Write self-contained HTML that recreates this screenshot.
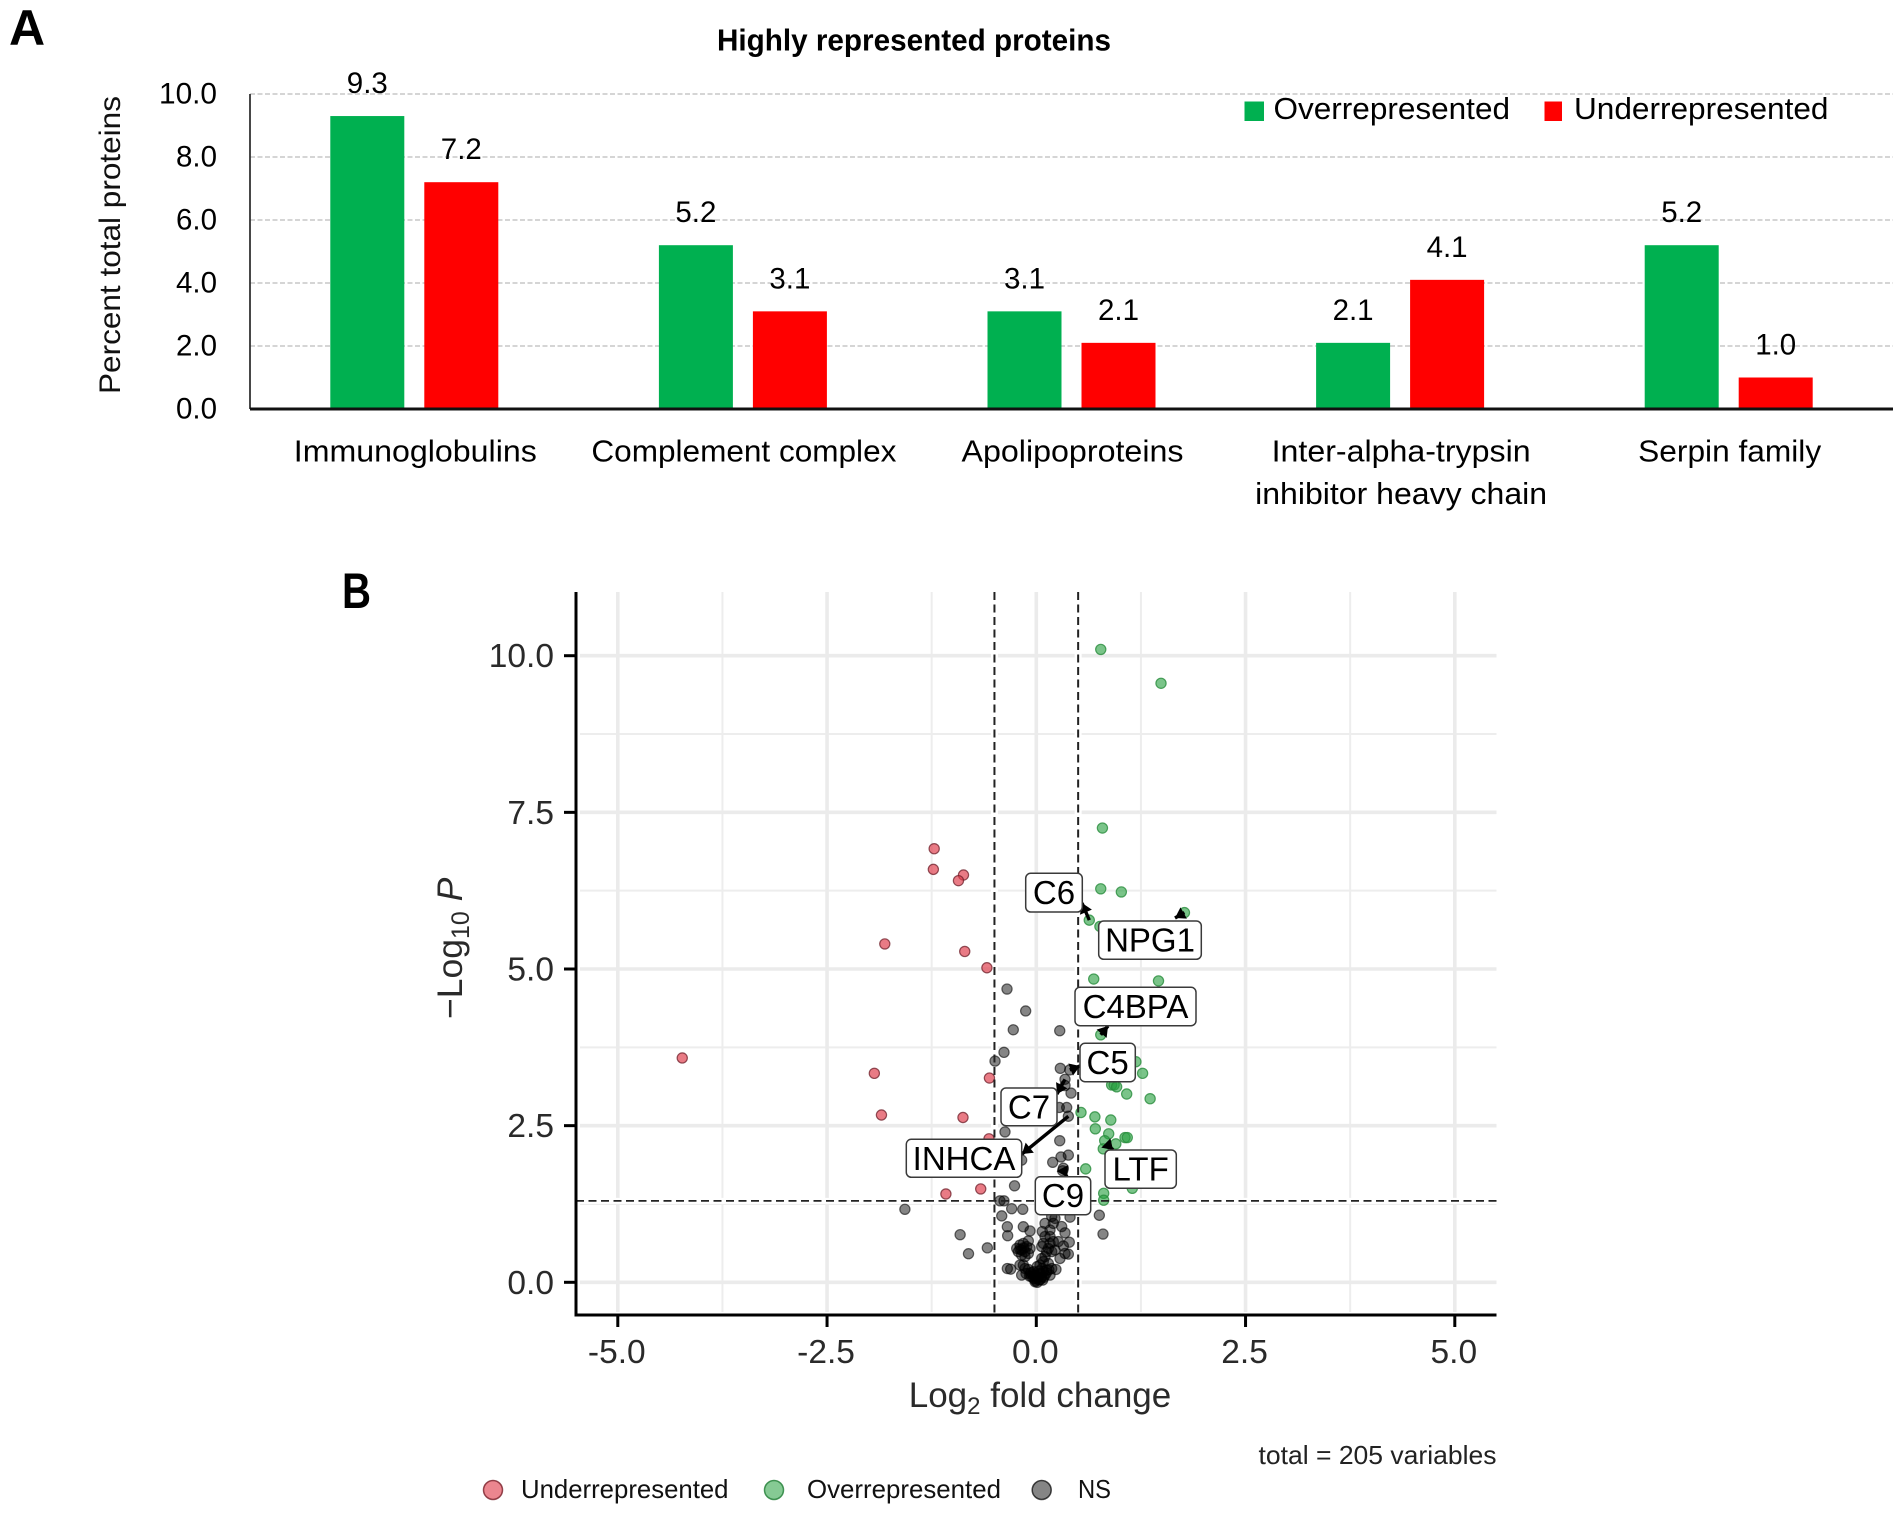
<!DOCTYPE html>
<html lang="en">
<head>
<meta charset="utf-8">
<title>Highly represented proteins and volcano plot</title>
<style>
html,body{margin:0;padding:0;background:#fff;}
svg{display:block;font-family:"Liberation Sans",Arial,sans-serif;}
</style>
</head>
<body>
<svg id="figure" xmlns="http://www.w3.org/2000/svg" width="1902" height="1515" viewBox="0 0 1902 1515">
  <rect x="0" y="0" width="1902" height="1515" fill="#fff"/>
  <g id="panelA"></g>
  <g id="panelB"></g>
</svg>
<script>
// ---- Panel A data ----
const categories = ['Immunoglobulins', 'Complement complex', 'Apolipoproteins', 'Inter-alpha-trypsin|inhibitor heavy chain', 'Serpin family'];
const overValues = [9.3, 5.2, 3.1, 2.1, 5.2];
const underValues = [7.2, 3.1, 2.1, 4.1, 1.0];
const barTicks = [0, 2, 4, 6, 8, 10];

// ---- Panel B data (log2 fold change, -log10 P) ----
const underX = [-1.22,-1.23,-0.87,-0.93,-1.81,-0.855,-0.59,-0.56,-1.85,-0.876,-0.565,-1.08,-0.664,-4.23,-1.935];
const underY = [6.92,6.59,6.50,6.41,5.40,5.28,5.02,3.26,2.67,2.63,2.29,1.41,1.49,3.58,3.335];
const overX = [0.77,1.49,0.79,0.77,1.016,1.77,0.633,0.76,0.686,1.46,0.77,1.19,1.27,0.90,0.93,0.96,1.08,1.36,0.534,0.70,0.89,0.705,0.865,1.06,1.087,0.817,0.95,0.80,0.59,0.805,0.805,1.147];
const overY = [10.10,9.56,7.25,6.28,6.23,5.90,5.78,5.68,4.84,4.81,3.95,3.52,3.335,3.15,3.15,3.12,3.005,2.93,2.71,2.64,2.59,2.45,2.37,2.31,2.31,2.26,2.21,2.13,1.81,1.42,1.31,1.50];
const nsX = [-0.35,-0.127,-0.275,0.28,-0.386,-0.493,0.287,0.40,0.343,0.343,0.415,0.275,0.363,0.383,-0.374,0.28,0.295,0.383,0.196,0.323,0.315,-0.175,-0.26,-0.434,-0.386,-0.294,-0.162,-1.57,-0.413,0.753,0.797,-0.91,-0.81,-0.585,-0.346,-0.342,-0.155,-0.075,-0.095,-0.234,-0.195,-0.155,-0.115,-0.075,-0.215,-0.175,-0.135,-0.095,-0.175,-0.135,-0.195,-0.15,-0.346,-0.306,-0.195,-0.155,-0.175,-0.135,-0.095,-0.123,-0.075,-0.035,-0.055,-0.015,-0.015,0.012,0.036,0.0,0.065,0.044,0.084,0.104,0.076,0.124,0.164,0.235,0.144,0.044,0.084,0.065,0.104,0.184,0.283,0.383,0.343,0.394,0.323,0.223,0.164,0.084,0.065,0.144,0.184,0.124,0.203,0.104,0.072,0.164,0.203,0.223,0.164,0.104,0.303,0.343,0.403,0.184,0.263,0.02,-0.04,0.05,-0.01,0.03,0.09,-0.08,0.12,-0.06,0.15,0.01,0.07,-0.03];
const nsY = [4.68,4.33,4.03,4.015,3.67,3.53,3.415,3.39,3.24,3.14,3.02,2.79,2.79,2.65,2.40,2.26,2.0,2.03,1.915,1.82,1.78,1.95,1.54,1.30,1.30,1.175,1.165,1.165,1.06,1.07,0.77,0.76,0.456,0.55,0.887,0.744,0.887,0.82,0.66,0.54,0.595,0.62,0.57,0.54,0.49,0.515,0.49,0.46,0.435,0.41,0.53,0.55,0.22,0.21,0.275,0.275,0.115,0.22,0.205,0.14,0.14,0.17,0.09,0.115,0.01,0.0,0.035,0.06,0.09,0.14,0.17,0.115,0.035,0.195,0.115,0.205,0.30,0.275,0.33,0.38,0.41,0.22,0.38,0.45,0.46,0.64,0.58,0.515,0.62,0.62,0.57,0.54,0.49,0.49,0.65,0.94,0.81,0.835,0.94,1.02,0.73,0.73,0.89,0.79,1.04,1.05,0.65,0.08,0.12,0.05,0.03,0.18,0.08,0.10,0.15,0.16,0.2,0.25,0.22,0.06];
const geneNames = ['C6','NPG1','C4BPA','C5','C7','INHCA','LTF','C9'];
const geneX = [0.633,1.77,0.77,0.40,0.343,0.383,0.857,0.32];
const geneY = [5.78,5.90,3.95,3.39,3.24,2.65,2.19,1.80];
const volcanoYTicks = [0, 2.5, 5, 7.5, 10];
const volcanoXTicks = [-5, -2.5, 0, 2.5, 5];
const volcanoYMinor = [1.25, 3.75, 6.25, 8.75];
const volcanoXMinor = [-3.75, -1.25, 1.25, 3.75];
const foldCutoffs = [-0.5, 0.5];
const pCutoff = 1.3;

const SVG_NS = 'http://www.w3.org/2000/svg';
function make(tag, attrs, parent, text) {
  const el = document.createElementNS(SVG_NS, tag);
  for (const k in attrs) el.setAttribute(k, attrs[k]);
  if (text !== undefined) el.textContent = text;
  parent.appendChild(el);
  return el;
}
const panelA = document.getElementById('panelA');
const panelB = document.getElementById('panelB');

// ---- Panel A scales ----
const aLeft = 250, aRight = 1893, aBase = 409, aUnit = 31.5;
const ay = v => aBase - v * aUnit;
const aBand = (aRight - aLeft) / 5;
const ax = i => aLeft + aBand * (i + 0.5);
const barW = 74, barGap = 10;

// panel letter and title
let t = make('text', {x: 9, y: 45, 'font-size': 50, 'font-weight': 700, fill: '#000'}, panelA, 'A');


t = make('text', {x: 717, y: 50.5, 'font-size': 31, 'font-weight': 700, textLength: 394, lengthAdjust: 'spacingAndGlyphs', fill: '#000'}, panelA, 'Highly represented proteins');



// gridlines + y ticks
barTicks.forEach(v => {
  if (v > 0) {
    const g = make('line', {x1: aLeft, x2: aRight, y1: ay(v), y2: ay(v), stroke: '#cfcfcf', 'stroke-width': 1.8, 'stroke-dasharray': '5 2.5'}, panelA);
    
    
  }
  const s = v.toFixed(1);
  const l = make('text', {x: 217, y: ay(v) + 9.5, 'font-size': 30, 'text-anchor': 'end', textLength: s.length > 3 ? 58 : 41, lengthAdjust: 'spacingAndGlyphs', fill: '#000'}, panelA, s);
  
  
});

// bars
categories.forEach((c, i) => {
  const gx = ax(i) - barGap - barW;
  const rx = ax(i) + barGap;
  const g = make('rect', {x: gx, y: ay(overValues[i]), width: barW, height: overValues[i] * aUnit, fill: '#00b050'}, panelA);
  
  
  const r = make('rect', {x: rx, y: ay(underValues[i]), width: barW, height: underValues[i] * aUnit, fill: '#ff0000'}, panelA);
  
  
  const gl = make('text', {x: gx + barW / 2, y: ay(overValues[i]) - 23, 'font-size': 30, 'text-anchor': 'middle', textLength: 41, lengthAdjust: 'spacingAndGlyphs', fill: '#000'}, panelA, overValues[i].toFixed(1));
  
  
  const rl = make('text', {x: rx + barW / 2, y: ay(underValues[i]) - 23, 'font-size': 30, 'text-anchor': 'middle', textLength: 41, lengthAdjust: 'spacingAndGlyphs', fill: '#000'}, panelA, underValues[i].toFixed(1));
  
  
});

// axes
const aAxisY = make('line', {x1: aLeft, x2: aLeft, y1: ay(10), y2: aBase, stroke: '#333', 'stroke-width': 1.8}, panelA);


const aAxisX = make('line', {x1: aLeft, x2: aRight, y1: aBase, y2: aBase, stroke: '#111', 'stroke-width': 3}, panelA);



// category labels: one width per text line
const catWidths = {'Immunoglobulins': 243, 'Complement complex': 305, 'Apolipoproteins': 222, 'Inter-alpha-trypsin': 259, 'inhibitor heavy chain': 292, 'Serpin family': 183};
categories.forEach((c, i) => {
  c.split('|').forEach((line, j) => {
    const l = make('text', {x: ax(i) + 1, y: 461.5 + j * 42.5, 'font-size': 31, 'text-anchor': 'middle', textLength: catWidths[line], lengthAdjust: 'spacingAndGlyphs', fill: '#000'}, panelA, line);
    
    
  });
});

t = make('text', {transform: 'translate(120,394) rotate(-90)', x: 0, y: 0, 'font-size': 30, textLength: 298, lengthAdjust: 'spacingAndGlyphs', fill: '#111'}, panelA, 'Percent total proteins');



// bar legend
let k = make('rect', {x: 1244.5, y: 101.5, width: 19.5, height: 19.5, fill: '#00b050'}, panelA);


t = make('text', {x: 1273.5, y: 119, 'font-size': 31, textLength: 236.5, lengthAdjust: 'spacingAndGlyphs', fill: '#000'}, panelA, 'Overrepresented');


k = make('rect', {x: 1544.5, y: 101.5, width: 17.5, height: 19.5, fill: '#ff0000'}, panelA);


t = make('text', {x: 1574, y: 119, 'font-size': 31, textLength: 254.5, lengthAdjust: 'spacingAndGlyphs', fill: '#000'}, panelA, 'Underrepresented');



// ---- Panel B scales ----
const bLeft = 576, bRight = 1496.5, bTop = 592, bBottom = 1315;
const bx = v => 1036.3 + v * 83.7;
const by = v => 1282.3 - v * 62.66;

t = make('text', {x: 342, y: 608, 'font-size': 50, 'font-weight': 700, textLength: 29, lengthAdjust: 'spacingAndGlyphs', fill: '#000'}, panelB, 'B');



// grid
const gridGroup = make('g', {}, panelB);


volcanoYMinor.forEach(v => {
  const g = make('line', {x1: 580, x2: bRight, y1: by(v), y2: by(v), stroke: '#ededed', 'stroke-width': 2}, gridGroup);
  
  
});
volcanoXMinor.forEach(v => {
  const g = make('line', {x1: bx(v), x2: bx(v), y1: bTop, y2: 1312, stroke: '#ededed', 'stroke-width': 2}, gridGroup);
  
  
});
volcanoYTicks.forEach(v => {
  const g = make('line', {x1: 580, x2: bRight, y1: by(v), y2: by(v), stroke: '#ebebeb', 'stroke-width': 3.6}, gridGroup);
  
  
});
volcanoXTicks.forEach(v => {
  const g = make('line', {x1: bx(v), x2: bx(v), y1: bTop, y2: 1312, stroke: '#ebebeb', 'stroke-width': 3.6}, gridGroup);
  
  
});

// white halo behind threshold lines
foldCutoffs.forEach(v => {
  const h = make('line', {x1: bx(v), x2: bx(v), y1: bTop, y2: 1312, stroke: '#fff', 'stroke-width': 7}, panelB);
  
  
});
const halo = make('line', {x1: 580, x2: bRight, y1: by(pCutoff), y2: by(pCutoff), stroke: '#fff', 'stroke-width': 6}, panelB);



// points
function drawPoints(xs, ys, fill, stroke, name) {
  xs.forEach((xv, i) => {
    const c = make('circle', {cx: bx(xv), cy: by(ys[i]), r: 5.1, fill: fill, stroke: stroke, 'stroke-width': 1.2}, panelB);
    
    
  });
}
drawPoints(underX, underY, 'rgba(222,60,75,0.68)', 'rgba(110,30,40,0.75)', 'point-underrepresented');
drawPoints(overX, overY, 'rgba(40,160,65,0.62)', 'rgba(40,140,60,0.8)', 'point-overrepresented');
drawPoints(nsX, nsY, 'rgba(0,0,0,0.48)', 'rgba(0,0,0,0.58)', 'point-not-significant');

// threshold lines
foldCutoffs.forEach(v => {
  const d = make('line', {x1: bx(v), x2: bx(v), y1: bTop, y2: bBottom, stroke: '#222', 'stroke-width': 2, 'stroke-dasharray': '8 4.5'}, panelB);
  
  
});
const pLine = make('line', {x1: bLeft, x2: bRight, y1: by(pCutoff), y2: by(pCutoff), stroke: '#222', 'stroke-width': 1.8, 'stroke-dasharray': '8 4.5'}, panelB);



// axes + ticks
const bAxisY = make('line', {x1: bLeft, x2: bLeft, y1: bTop, y2: bBottom + 1.5, stroke: '#000', 'stroke-width': 3}, panelB);


const bAxisX = make('line', {x1: bLeft, x2: bRight, y1: bBottom, y2: bBottom, stroke: '#000', 'stroke-width': 3}, panelB);


volcanoYTicks.forEach(v => {
  const m = make('line', {x1: bLeft - 12, x2: bLeft, y1: by(v), y2: by(v), stroke: '#000', 'stroke-width': 3}, panelB);
  
  
  const l = make('text', {x: 554, y: by(v) + 11.5, 'font-size': 33.5, 'text-anchor': 'end', fill: '#2a2a2a'}, panelB, v.toFixed(1));
  
  
});
volcanoXTicks.forEach(v => {
  const m = make('line', {x1: bx(v), x2: bx(v), y1: bBottom, y2: bBottom + 12, stroke: '#000', 'stroke-width': 3}, panelB);
  
  
  const l = make('text', {x: bx(v) - 1, y: 1363, 'font-size': 33.5, 'text-anchor': 'middle', fill: '#2a2a2a'}, panelB, v.toFixed(1));
  
  
});

// axis titles
const xTitle = make('text', {x: 1040, y: 1407, 'font-size': 35, 'text-anchor': 'middle', fill: '#2a2a2a'}, panelB);


make('tspan', {}, xTitle, 'Log');
make('tspan', {'font-size': 24, dy: 7}, xTitle, '2');
make('tspan', {dy: -7}, xTitle, ' fold change');

const yTitle = make('text', {transform: 'translate(462,1019) rotate(-90)', x: 0, y: 0, 'font-size': 35.5, fill: '#2a2a2a'}, panelB);


make('tspan', {}, yTitle, '\u2212Log');
make('tspan', {'font-size': 25, dy: 7}, yTitle, '10');
make('tspan', {dy: -7, 'font-style': 'italic'}, yTitle, ' P');

// gene labels: box layout (pixels) is styling; the arrow tip follows the data
const geneBoxes = {
  C6: [1025.7, 873.3, 56.6, 38.7, 1082, 903],
  NPG1: [1098.7, 921, 102.6, 38.3, 1175, 918],
  C4BPA: [1075, 987.3, 121, 38.4, 1108, 1026],
  C5: [1080, 1043.3, 55.3, 38.4, 1080, 1066],
  C7: [1001, 1088, 56, 37.7, 1057, 1094],
  INHCA: [906.3, 1139.3, 115.4, 38, 1022, 1154],
  LTF: [1105, 1150, 71.3, 38.3, 1113, 1150],
  C9: [1035.3, 1176.7, 55.4, 38, 1067, 1177]
};
geneNames.forEach((name, i) => {
  const b = geneBoxes[name];
  const px = bx(geneX[i]), py = by(geneY[i]);
  const line = make('line', {x1: b[4], y1: b[5], x2: px, y2: py, stroke: '#000', 'stroke-width': 3.4}, panelB);
  
  
  const ang = Math.atan2(py - b[5], px - b[4]);
  const len = 10, wid = 6.5;
  const pts = [
    [b[4], b[5]],
    [b[4] + len * Math.cos(ang) - wid * Math.sin(ang), b[5] + len * Math.sin(ang) + wid * Math.cos(ang)],
    [b[4] + len * Math.cos(ang) + wid * Math.sin(ang), b[5] + len * Math.sin(ang) - wid * Math.cos(ang)]
  ].map(p => p.join(',')).join(' ');
  const head = make('polygon', {points: pts, fill: '#000'}, panelB);
  
  
});
geneNames.forEach(name => {
  const b = geneBoxes[name];
  const box = make('rect', {x: b[0], y: b[1], width: b[2], height: b[3], rx: 5, fill: '#fff', stroke: '#3a3a3a', 'stroke-width': 1.5}, panelB);
  
  
  const l = make('text', {x: b[0] + b[2] / 2, y: b[1] + b[3] / 2 + 11.5, 'font-size': 33, 'text-anchor': 'middle', fill: '#000'}, panelB, name);
  
  
});

// caption + legend
t = make('text', {x: 1496.5, y: 1464, 'font-size': 26, 'text-anchor': 'end', textLength: 238, lengthAdjust: 'spacingAndGlyphs', fill: '#222'}, panelB, 'total = 205 variables');



const volcanoLegend = [
  ['Underrepresented', 493, 521, 207.5, 'rgba(222,60,75,0.62)', 'rgba(120,30,40,0.8)'],
  ['Overrepresented', 774, 807, 194, 'rgba(40,160,65,0.56)', 'rgba(40,130,60,0.85)'],
  ['NS', 1041.7, 1078, 33, 'rgba(0,0,0,0.48)', 'rgba(0,0,0,0.7)']
];
volcanoLegend.forEach(e => {
  const c = make('circle', {cx: e[1], cy: 1490, r: 9.5, fill: e[4], stroke: e[5], 'stroke-width': 1.5}, panelB);
  
  
  const l = make('text', {x: e[2], y: 1498, 'font-size': 26, textLength: e[3], lengthAdjust: 'spacingAndGlyphs', fill: '#111'}, panelB, e[0]);
  
  
});
</script>
</body>
</html>
